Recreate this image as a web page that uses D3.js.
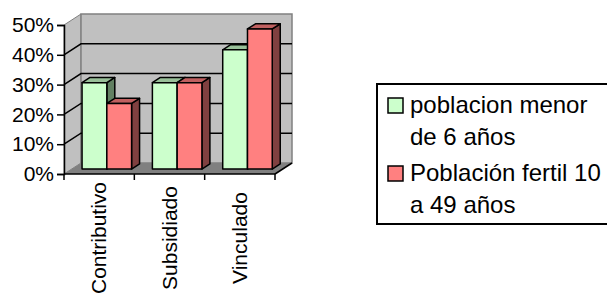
<!DOCTYPE html>
<meta charset="utf-8">
<script src="https://d3js.org/d3.v7.min.js"></script>
<style>
  html, body { margin: 0; padding: 0; background: #fff; }
  text { font-family: 'Liberation Sans', Arial, sans-serif; fill: #000; }
</style>
<body>
<div id="my_dataviz"></div>
<script>
// data
var categories = ["Contributivo", "Subsidiado", "Vinculado"];
var seriesNames = ["poblacion menor de 6 años", "Población fertil 10 a 49 años"];
var menor6 = [0.29, 0.29, 0.40];
var fertil = [0.22, 0.29, 0.47];
var yTicks = [0, 0.1, 0.2, 0.3, 0.4, 0.5];
var legendLines = [["poblacion menor", "de 6 años"], ["Población fertil 10", "a 49 años"]];

var W = 607, H = 294;
var colors = [
  {front: "#ccffcc", top: "#99c099", side: "#628062"},
  {front: "#ff8080", top: "#c06060", side: "#804040"}
];

// depth of the 3d box
var dx = 17, dy = -11;
var t0 = 0.45, t1 = 0.92;

var svg = d3.select("#my_dataviz")
  .append("svg")
    .attr("width", W)
    .attr("height", H);

var x = d3.scaleBand()
  .domain(categories)
  .range([64, 275]);

var y = d3.scaleLinear()
  .domain([0, 0.5])
  .range([174, 25]);

var inner = d3.scaleBand()
  .domain([0, 1])
  .range([0, x.bandwidth()])
  .paddingOuter(0.42)
  .paddingInner(0);

function P(px, v, t) { return [px + t * dx, y(v) + t * dy]; }
function poly(pts) { return pts.map(function(p) { return p.join(","); }).join(" "); }

var x0 = x.range()[0], x1 = x.range()[1];

// side wall
svg.append("polygon")
  .attr("points", poly([P(x0, 0, 0), P(x0, 0, 1), P(x0, 0.5, 1), P(x0, 0.5, 0)]))
  .attr("fill", "#c0c0c0").attr("stroke", "#808080").attr("stroke-width", 1);
// back wall
svg.append("polygon")
  .attr("points", poly([P(x0, 0, 1), P(x1, 0, 1), P(x1, 0.5, 1), P(x0, 0.5, 1)]))
  .attr("fill", "#c0c0c0").attr("stroke", "#808080").attr("stroke-width", 1.5);
// floor
svg.append("polygon")
  .attr("points", poly([P(x0, 0, 0), P(x1, 0, 0), P(x1, 0, 1), P(x0, 0, 1)]))
  .attr("fill", "#808080").attr("stroke", "none");

// gridlines
yTicks.slice(1, yTicks.length - 1).forEach(function(v) {
  var a = P(x0, v, 0), b = P(x0, v, 1), c = P(x1, v, 1);
  svg.append("polyline")
    .attr("points", poly([a, b, c]))
    .attr("fill", "none").attr("stroke", "#000").attr("stroke-width", 1.5);
});

// floor right edge
svg.append("line")
  .attr("x1", P(x1, 0, 0)[0]).attr("y1", P(x1, 0, 0)[1])
  .attr("x2", P(x1, 0, 1)[0]).attr("y2", P(x1, 0, 1)[1])
  .attr("stroke", "#000").attr("stroke-width", 1.5);

// bars
var series = [menor6, fertil];
categories.forEach(function(cat, i) {
  [0, 1].forEach(function(s) {
    var v = series[s][i];
    var a = x(cat) + inner(s), b = a + inner.bandwidth();
    var c = colors[s];
    var g = svg.append("g")
      .attr("stroke", "#000").attr("stroke-width", 1.5).attr("stroke-linejoin", "round");
    g.append("polygon")
      .attr("points", poly([P(b, 0, t0), P(b, 0, t1), P(b, v, t1), P(b, v, t0)]))
      .attr("fill", c.side);
    g.append("polygon")
      .attr("points", poly([P(a, v, t0), P(b, v, t0), P(b, v, t1), P(a, v, t1)]))
      .attr("fill", c.top);
    g.append("polygon")
      .attr("points", poly([P(a, 0, t0), P(b, 0, t0), P(b, v, t0), P(a, v, t0)]))
      .attr("fill", c.front);
  });
});

// y axis
var yAxis = svg.append("g")
  .attr("transform", "translate(" + x0 + ",0)")
  .call(d3.axisLeft(y).tickValues(yTicks).tickFormat(d3.format(".0%")).tickSize(7).tickPadding(3));
yAxis.select(".domain").attr("stroke", "#000").attr("stroke-width", 1.5);
yAxis.selectAll(".tick line").attr("stroke", "#000").attr("stroke-width", 1.5);
yAxis.selectAll(".tick text")
  .attr("font-size", "21px")
  .attr("font-family", "'Liberation Sans', Arial, sans-serif")
  .attr("fill", "#000");

// x axis
svg.append("line")
  .attr("x1", x0).attr("x2", x1).attr("y1", y(0)).attr("y2", y(0))
  .attr("stroke", "#000").attr("stroke-width", 1.5);
categories.concat(["end"]).forEach(function(cat, i) {
  var px = i < categories.length ? x(cat) : x1;
  svg.append("line")
    .attr("x1", px).attr("x2", px).attr("y1", y(0)).attr("y2", y(0) + 6)
    .attr("stroke", "#000").attr("stroke-width", 1.5);
});
svg.selectAll(".catlabel")
  .data(categories)
  .enter()
  .append("text")
    .attr("class", "catlabel")
    .attr("transform", function(d) { return "translate(" + (x(d) + x.bandwidth() / 2 + 7) + ",238)rotate(-90)"; })
    .attr("text-anchor", "middle")
    .attr("font-size", "21px")
    .text(function(d) { return d; });

// legend
var leg = svg.append("g");
leg.append("rect")
  .attr("x", 377).attr("y", 84).attr("width", 260).attr("height", 140)
  .attr("fill", "#fff").attr("stroke", "#000").attr("stroke-width", 2);
legendLines.forEach(function(lines, s) {
  var top = 98 + s * 68;
  leg.append("rect")
    .attr("x", 388).attr("y", top).attr("width", 15).attr("height", 15)
    .attr("fill", colors[s].front).attr("stroke", "#000").attr("stroke-width", 1.5);
  lines.forEach(function(l, k) {
    leg.append("text")
      .attr("x", 410).attr("y", top + 15 + k * 32)
      .attr("font-size", "24px")
      .text(l);
  });
});
</script>
</body>
